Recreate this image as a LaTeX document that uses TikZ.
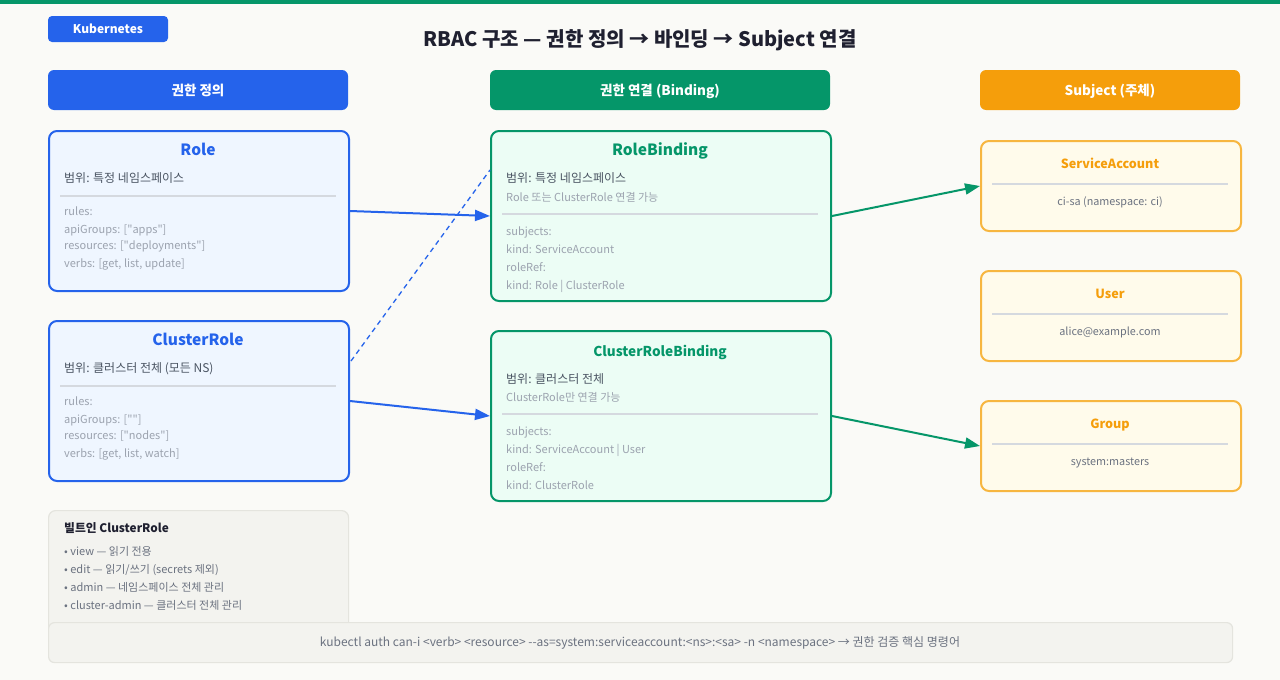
\documentclass[tikz,border=0pt]{standalone}
\usepackage{fontspec}
\setmainfont{Noto Sans CJK KR}
\newfontfamily\plainf{Noto Sans CJK KR}
\usetikzlibrary{arrows.meta,calc}
\definecolor{bg}{HTML}{FAFAF7}
\definecolor{kblue}{HTML}{2563EB}
\definecolor{kgreen}{HTML}{059669}
\definecolor{korange}{HTML}{F59E0B}
\definecolor{kborder}{HTML}{F7B640}
\definecolor{bluefill}{HTML}{EFF6FF}
\definecolor{greenfill}{HTML}{ECFDF5}
\definecolor{orangefill}{HTML}{FFFBEB}
\definecolor{greyfill}{HTML}{F3F3EF}
\definecolor{greyline}{HTML}{E4E4DE}
\definecolor{sepline}{HTML}{D5D9DF}
\definecolor{titletext}{HTML}{1F2030}
\definecolor{scopetext}{HTML}{4B5563}
\definecolor{lighttext}{HTML}{9CA3AF}
\definecolor{midtext}{HTML}{6B7280}
\newcommand{\fs}[1]{\fontsize{#1}{#1}\selectfont}
\newcommand{\dq}{{\plainf"}}
\tikzset{
  txt/.style={inner sep=0pt, text height=1.05em, text depth=0.05em},
  hdr/.style={rounded corners=6pt, minimum height=40pt, inner sep=0pt, text height=1.05em, text depth=0.05em, text=white, font=\fs{13.5}\bfseries},
  cardbox/.style={draw, line width=2pt, rounded corners=8pt, anchor=north west, inner sep=0pt},
  bluebox/.style={cardbox, draw=kblue, fill=bluefill, minimum width=300pt, minimum height=160pt},
  greenbox/.style={cardbox, draw=kgreen, fill=greenfill, minimum width=340pt, minimum height=170pt},
  subjbox/.style={cardbox, draw=kborder, fill=orangefill, minimum width=260pt, minimum height=90pt},
  cardtitle/.style={txt, font=\fs{15.5}\bfseries},
  scope/.style={txt, anchor=west, text=scopetext, font=\fs{12}},
  desc/.style={txt, anchor=west, text=lighttext, font=\fs{11}},
  rule/.style={txt, anchor=west, text=lighttext, font=\fs{11}},
  subjtitle/.style={txt, text=korange, font=\fs{12.6}\bfseries},
  subjtext/.style={txt, text=midtext, font=\fs{10.8}},
  item/.style={txt, anchor=west, text=midtext, font=\fs{11}},
  sep/.style={draw=sepline, line width=1.5pt},
  arr/.style={line width=2pt, -{Triangle[length=15pt,width=11pt]}},
}
\begin{document}
\begin{tikzpicture}[x=1pt,y=-1pt]
\useasboundingbox (0,0) rectangle (1280,680);
\fill[bg] (0,0) rectangle (1280,680);
\fill[kgreen] (0,0) rectangle (1280,4);

% badge and title
\node[fill=kblue, rounded corners=4pt, minimum width=120pt, minimum height=26pt, inner sep=0pt, text height=1.05em, text depth=0.05em, text=white, font=\fs{12}\bfseries] (badge) at (108,29) {Kubernetes};
\node[txt, text=titletext, font=\fs{20}\bfseries] (title) at (640,41) {RBAC 구조 — 권한 정의 → 바인딩 → Subject 연결};

% column headers
\node[hdr, fill=kblue, minimum width=300pt] (h1) at (198,90) {권한 정의};
\node[hdr, fill=kgreen, minimum width=340pt] (h2) at (660,90) {권한 연결 (Binding)};
\node[hdr, fill=korange, minimum width=260pt] (h3) at (1110,90) {Subject (주체)};

% Role
\node[bluebox] (role) at (48,130) {};
\node[cardtitle, text=kblue] (roleT) at (198,150) {Role};
\node[scope] (roleS) at (64,177) {범위: 특정 네임스페이스};
\draw[sep] (60,196) -- (336,196);
\node[rule] (roleR1) at (64,210) {rules:};
\node[rule] (roleR2) at (64,228) {apiGroups: [\dq apps\dq]};
\node[rule] (roleR3) at (64,244) {resources: [\dq deployments\dq]};
\node[rule] (roleR4) at (64,262) {verbs: [get, list, update]};

% ClusterRole
\node[bluebox] (crole) at (48,320) {};
\node[cardtitle, text=kblue] (croleT) at (198,340) {ClusterRole};
\node[scope] (croleS) at (64,367) {범위: 클러스터 전체 (모든 NS)};
\draw[sep] (60,386) -- (336,386);
\node[rule] (croleR1) at (64,400) {rules:};
\node[rule] (croleR2) at (64,418) {apiGroups: [\dq\dq]};
\node[rule] (croleR3) at (64,434) {resources: [\dq nodes\dq]};
\node[rule] (croleR4) at (64,452) {verbs: [get, list, watch]};

% RoleBinding
\node[greenbox] (rb) at (490,130) {};
\node[cardtitle, text=kgreen] (rbT) at (660,150) {RoleBinding};
\node[scope] (rbS) at (506,177) {범위: 특정 네임스페이스};
\node[desc] (rbD) at (506,196) {Role 또는 ClusterRole 연결 가능};
\draw[sep] (502,214) -- (818,214);
\node[rule] (rbR1) at (506,230) {subjects:};
\node[rule] (rbR2) at (506,248) {kind: ServiceAccount};
\node[rule] (rbR3) at (506,266) {roleRef:};
\node[rule] (rbR4) at (506,284) {kind: Role | ClusterRole};

% ClusterRoleBinding
\node[greenbox] (crb) at (490,330) {};
\node[cardtitle, text=kgreen, font=\fs{13.6}\bfseries] (crbT) at (660,351) {ClusterRoleBinding};
\node[scope] (crbS) at (506,378) {범위: 클러스터 전체};
\node[desc] (crbD) at (506,396) {ClusterRole만 연결 가능};
\draw[sep] (502,414) -- (818,414);
\node[rule] (crbR1) at (506,430) {subjects:};
\node[rule] (crbR2) at (506,448) {kind: ServiceAccount | User};
\node[rule] (crbR3) at (506,466) {roleRef:};
\node[rule] (crbR4) at (506,484) {kind: ClusterRole};

% Subjects
\node[subjbox] (sa) at (980,140) {};
\node[subjtitle] (saT) at (1110,163) {ServiceAccount};
\draw[sep] (992,184) -- (1228,184);
\node[subjtext] (saX) at (1110,200) {ci-sa (namespace: ci)};

\node[subjbox] (user) at (980,270) {};
\node[subjtitle] (userT) at (1110,293) {User};
\draw[sep] (992,314) -- (1228,314);
\node[subjtext] (userX) at (1110,330) {alice@example.com};

\node[subjbox] (grp) at (980,400) {};
\node[subjtitle] (grpT) at (1110,423) {Group};
\draw[sep] (992,444) -- (1228,444);
\node[subjtext] (grpX) at (1110,460) {system:masters};

% Built-in ClusterRoles
\node[cardbox, draw=greyline, line width=1.2pt, fill=greyfill, minimum width=300pt, minimum height=140pt, rounded corners=7pt] (builtin) at (48,510) {};
\node[txt, anchor=west, text=titletext, font=\fs{11.8}\bfseries] (biT) at (64,527) {빌트인 ClusterRole};
\node[item] (bi1) at (64,550) {• view — 읽기 전용};
\node[item] (bi2) at (64,568) {• edit — 읽기/쓰기 (secrets 제외)};
\node[item] (bi3) at (64,586) {• admin — 네임스페이스 전체 관리};
\node[item] (bi4) at (64,604) {• cluster-admin — 클러스터 전체 관리};

% command bar
\node[cardbox, draw=greyline, line width=1.2pt, fill=greyfill, minimum width=1184pt, minimum height=40pt, rounded corners=6pt] (cmd) at (48,622) {};
\node[txt, text=midtext, font=\fs{12}] (cmdT) at (640,641) {kubectl auth can-i <verb> <resource> -{}-as=system:serviceaccount:<ns>:<sa> -n <namespace> → 권한 검증 핵심 명령어};

% connectors
\draw[arr, kblue] (role.east) -- (rb.west);
\draw[arr, kblue] (crole.east) -- (crb.west);
\draw[kblue, line width=1.3pt, dash pattern=on 5pt off 4pt] ($(crole.east)+(1,-40)$) -- ($(rb.west)+(0,-46)$);
\draw[arr, kgreen] (rb.east) -- (sa.west);
\draw[arr, kgreen] (crb.east) -- (grp.west);
\end{tikzpicture}
\end{document}
